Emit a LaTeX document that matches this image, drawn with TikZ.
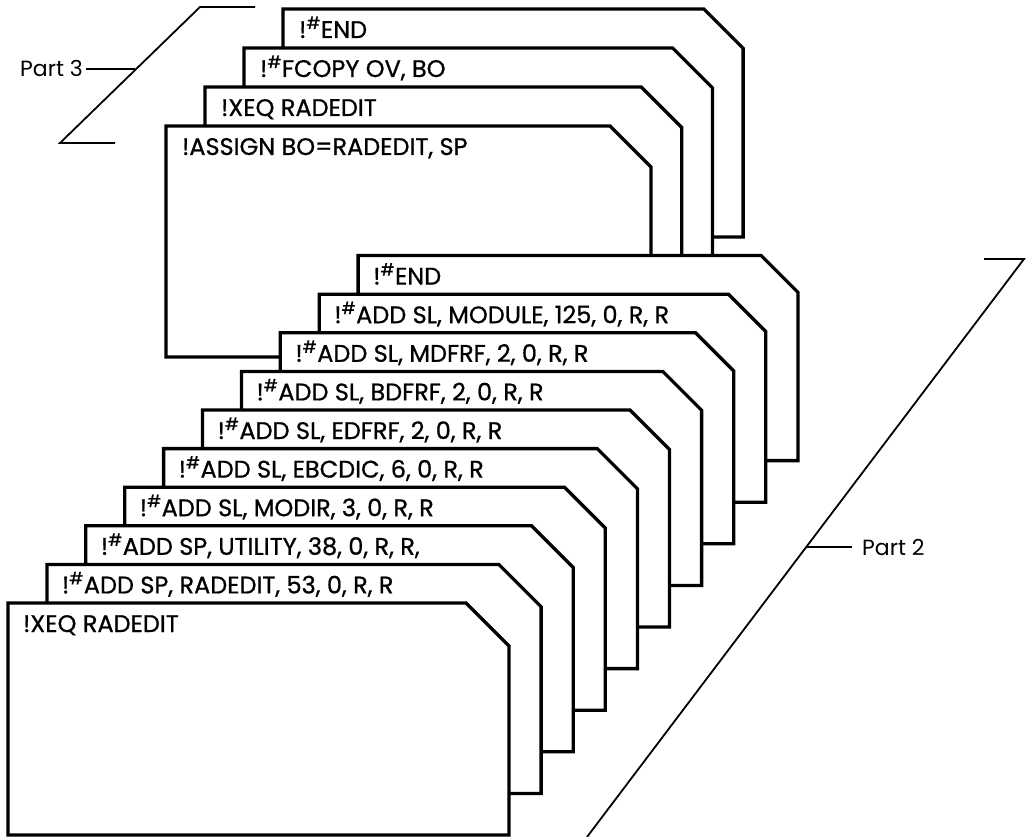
\documentclass[tikz,border=0pt]{standalone}
\usepackage{fontspec}
\newfontfamily\cardfont{Poppins}[FakeBold=0.8]
\newfontfamily\partfont{Poppins}
\usetikzlibrary{positioning, calc}
\newcommand\cmdmark{!\textsuperscript{\#}}

\begin{document}
\begin{tikzpicture}[
  x=1pt, y=-1pt,
  every node/.style={font=\cardfont\fontsize{24}{28}\selectfont},
  card/.style  = {draw, fill=white, line width=3.3pt, line join=miter},
  cmd/.style   = {anchor=base west, inner sep=0pt},
  brace/.style = {line width=1.8pt},
  part/.style  = {anchor=base west, inner sep=0pt, font=\partfont\fontsize{22}{26}\selectfont},
]
  \useasboundingbox (0,0) rectangle (1026,837);
  % Part 3 deck, back card first
  \foreach \i/\t in {3/{\cmdmark END}, 2/{\cmdmark FCOPY OV, BO}, 1/{!XEQ RADEDIT}, 0/{!ASSIGN BO=RADEDIT, SP}}{
    \pgfmathsetmacro\L{166+39*\i}
    \pgfmathsetmacro\T{126-39*\i}
    \pgfmathsetmacro\R{651+30.7*\i}
    \pgfmathsetmacro\B{357-40*\i}
    \pgfmathsetmacro\c{41-0.6*\i}
    \draw[card] (\L,\B) -- (\L,\T) -- ({\R-\c},\T) -- (\R,{\T+\c}) -- (\R,\B) -- cycle;
    \node[cmd] (pthree\i) at ({\L+16},{\T+29}) {\t};
  }
  % Part 2 deck, back card first
  \foreach \i/\t in {9/{\cmdmark END}, 8/{\cmdmark ADD SL, MODULE, 125, 0, R, R}, 7/{\cmdmark ADD SL, MDFRF, 2, 0, R, R},
                     6/{\cmdmark ADD SL, BDFRF, 2, 0, R, R}, 5/{\cmdmark ADD SL, EDFRF, 2, 0, R, R}, 4/{\cmdmark ADD SL, EBCDIC, 6, 0, R, R},
                     3/{\cmdmark ADD SL, MODIR, 3, 0, R, R}, 2/{\cmdmark ADD SP, UTILITY, 38, 0, R, R,}, 1/{\cmdmark ADD SP, RADEDIT, 53, 0, R, R},
                     0/{!XEQ RADEDIT}}{
    \pgfmathsetmacro\L{8+38.9*\i}
    \pgfmathsetmacro\T{603-38.6*\i}
    \pgfmathsetmacro\R{509+32.1*\i}
    \pgfmathsetmacro\B{835-41.6*\i}
    \pgfmathsetmacro\c{43-0.7*\i}
    \draw[card] (\L,\B) -- (\L,\T) -- ({\R-\c},\T) -- (\R,{\T+\c}) -- (\R,\B) -- cycle;
    \node[cmd] (ptwo\i) at ({\L+15},{\T+29}) {\t};
  }
  % brackets and labels
  \coordinate (pthreetop) at (200,7);
  \coordinate (pthreebot) at (60,143);
  \draw[brace] (255,7) -- (pthreetop) -- (pthreebot) -- (115,143);
  \node[part] (partthree) at (20,77) {Part 3};
  \coordinate (pthreehit) at (135,0 |- partthree.east);
  \draw[brace, shorten <=3pt] (partthree.east) -- (pthreehit);

  \coordinate (ptwotop) at (1024,259);
  \coordinate (ptwobot) at (587,837);
  \draw[brace] (984,259) -- (ptwotop) -- (ptwobot);
  \node[part] (parttwo) at (862,555) {Part 2};
  \coordinate (ptwohit) at (806,0 |- parttwo.west);
  \draw[brace, shorten >=10pt] (ptwohit) -- (parttwo.west);
\end{tikzpicture}
\end{document}
